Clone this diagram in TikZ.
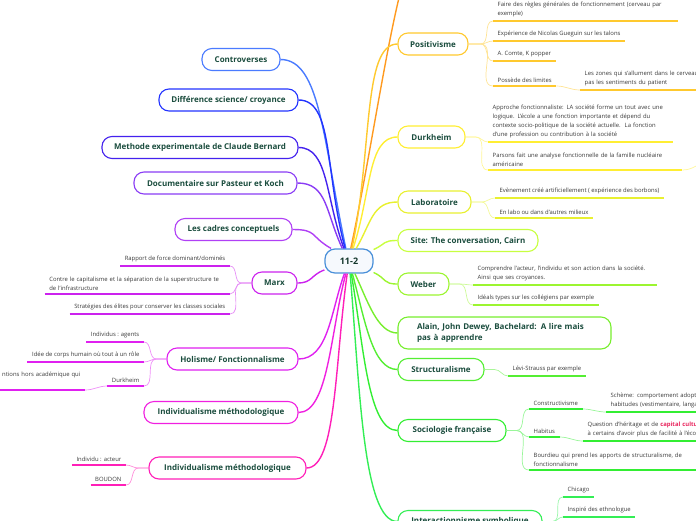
\documentclass[tikz,border=0pt]{standalone}
\usepackage{fontspec}
\setmainfont{Open Sans}
\definecolor{cCenter}{HTML}{4A90D9}
\definecolor{cCon}{HTML}{4A7BFF}
\definecolor{cDif}{HTML}{2233FF}
\definecolor{cMet}{HTML}{4422EE}
\definecolor{cDoc}{HTML}{8A3CF5}
\definecolor{cCad}{HTML}{B040F5}
\definecolor{cMarx}{HTML}{CC22EE}
\definecolor{cHol}{HTML}{E020F0}
\definecolor{cIndA}{HTML}{F020E0}
\definecolor{cIndB}{HTML}{FF1FB8}
\definecolor{cOra}{HTML}{FF9A1F}
\definecolor{cPos}{HTML}{FFC92E}
\definecolor{cDur}{HTML}{FFEE33}
\definecolor{cLab}{HTML}{E8F030}
\definecolor{cSite}{HTML}{C8FF40}
\definecolor{cWeb}{HTML}{9CF530}
\definecolor{cAla}{HTML}{77EE2E}
\definecolor{cStr}{HTML}{55EE33}
\definecolor{cSoc}{HTML}{33EE33}
\definecolor{cInt}{HTML}{33EE55}
\definecolor{topictext}{HTML}{1B4D3E}
\definecolor{leaftext}{HTML}{3A3A3A}
\definecolor{capred}{HTML}{E8245C}

\begin{document}
\begin{tikzpicture}[x=1pt,y=1pt,
  topic/.style={draw=#1,line width=1.1pt,rounded corners=10pt,fill=white,minimum height=22pt,font=\fontsize{8}{11.5}\selectfont\bfseries,text=topictext},
  leaf/.style={inner xsep=4.5pt,inner ysep=3.5pt,font=\fontsize{5.9}{9}\selectfont,text=leaftext,align=left},
  branch/.style={draw=#1,line width=1.4pt},
  twig/.style={draw=#1!50,line width=0.7pt},
  ul/.style={draw=#1,line width=1.5pt}]
  \useasboundingbox (0,0) rectangle (696,-520);

  \node[draw=cCenter,line width=1.2pt,rounded corners=10pt,fill=cCenter!5,minimum width=48pt,minimum height=24pt,font=\fontsize{9}{10}\selectfont\bfseries,text=topictext!70!black] (c) at (349,-261) {11-2};

  % left side
  \node[topic=cCon,minimum width=78pt] (contro) at (241,-59.5) {Controverses};
  \node[topic=cDif,minimum width=139pt] (diff) at (228.5,-100) {Différence science/ croyance};
  \node[topic=cMet,minimum width=196pt] (bernard) at (200,-147.5) {Methode experimentale de Claude Bernard};
  \node[topic=cDoc,minimum width=163pt] (pasteur) at (215.5,-183) {Documentaire sur Pasteur et Koch};
  \node[topic=cCad,minimum width=117pt] (cadres) at (233.5,-229.5) {Les cadres conceptuels};
  \node[topic=cMarx,minimum width=45pt] (marx) at (274.5,-283) {Marx};
  \node[topic=cHol,minimum width=131pt] (holisme) at (232.5,-359) {Holisme/ Fonctionnalisme};
  \node[topic=cIndA,minimum width=154pt] (indivA) at (221,-412.5) {Individualisme méthodologique};
  \node[topic=cIndB,minimum width=157pt] (indivB) at (227.5,-468) {Individualisme méthodologique};

  % right side
  \node[topic=cPos,minimum width=70pt] (posit) at (433,-44) {Positivisme};
  \node[topic=cDur,minimum width=67pt] (durk) at (431.5,-137) {Durkheim};
  \node[topic=cLab,minimum width=73pt] (labo) at (434.5,-202) {Laboratoire};
  \node[topic=cSite,minimum width=140pt] (site) at (468,-240.5) {Site: The conversation, Cairn};
  \node[topic=cWeb,minimum width=51pt] (weber) at (423.5,-284) {Weber};
  \node[topic=cAla,minimum width=213pt,text width=175pt,align=left,inner xsep=19pt,minimum height=32pt] (alain) at (504.5,-333) {Alain, John Dewey, Bachelard: A lire mais\\pas à apprendre};
  \node[topic=cStr,minimum width=86pt] (struct) at (441,-369.5) {Structuralisme};
  \node[topic=cSoc,minimum width=108pt] (socio) at (452,-430.5) {Sociologie française};
  \node[topic=cInt,minimum width=144pt] (inter) at (470,-521.5) {Interactionnisme symbolique};

  \coordinate (above) at (402,14);
  \coordinate (durkmore) at (708,-160);
  \coordinate (intermore) at (562,-538);

  \draw[branch=cCon] (c.104) .. controls +(102:110) and +(40,0) .. (contro.east);
  \draw[branch=cDif] (c.107) .. controls +(105:80) and +(35,0) .. (diff.east);
  \draw[branch=cMet] (c.112) .. controls +(110:55) and +(30,0) .. (bernard.east);
  \draw[branch=cDoc] (c.118) .. controls +(115:40) and +(30,0) .. (pasteur.east);
  \draw[branch=cCad] (c.145) .. controls +(150:25) and +(25,0) .. (cadres.east);
  \draw[branch=cMarx] (c.200) .. controls +(200:15) and +(15,0) .. (marx.east);
  \draw[branch=cHol] (c.250) .. controls +(250:40) and +(30,0) .. (holisme.east);
  \draw[branch=cIndA] (c.256) .. controls +(255:60) and +(30,0) .. (indivA.east);
  \draw[branch=cIndB] (c.262) .. controls +(262:90) and +(30,0) .. (indivB.east);
  \draw[branch=cOra] (c.82) .. controls +(78:90) and +(255:60) .. (above);
  \draw[branch=cPos] (c.77) .. controls +(78:100) and +(-35,0) .. (posit.west);
  \draw[branch=cDur] (c.72) .. controls +(72:60) and +(-30,0) .. (durk.west);
  \draw[branch=cLab] (c.60) .. controls +(60:30) and +(-25,0) .. (labo.west);
  \draw[branch=cSite] (c.25) .. controls +(25:15) and +(-15,0) .. (site.west);
  \draw[branch=cWeb] (c.-25) .. controls +(-25:15) and +(-15,0) .. (weber.west);
  \draw[branch=cAla] (c.-65) .. controls +(-65:30) and +(-20,0) .. (alain.west);
  \draw[branch=cStr] (c.-75) .. controls +(-75:50) and +(-25,0) .. (struct.west);
  \draw[branch=cSoc] (c.-80) .. controls +(-80:70) and +(-30,0) .. (socio.west);
  \draw[branch=cInt] (c.-85) .. controls +(-85:110) and +(-35,0) .. (inter.west);

  % Marx
  \node[leaf,anchor=south east] (rapport) at (230,-266) {Rapport de force dominant/dominés};
  \node[leaf,text width=176pt,anchor=south east] (capital) at (230,-294) {Contre le capitalisme et la séparation de la superstructure te\\de l'infrastructure};
  \node[leaf,anchor=south east] (elites) at (230,-314) {Stratégies des élites pour conserver les classes sociales};
  \draw[twig=cMarx] (marx.west) -- ++(-10,0) to[out=180,in=0] (rapport.south east);
  \draw[twig=cMarx] (marx.west) -- ++(-10,0) to[out=180,in=0] (capital.south east);
  \draw[twig=cMarx] (marx.west) -- ++(-10,0) to[out=180,in=0] (elites.south east);
  \draw[ul=cMarx] (rapport.south west) -- (rapport.south east);
  \draw[ul=cMarx] (capital.south west) -- (capital.south east);
  \draw[ul=cMarx] (elites.south west) -- (elites.south east);

  % Holisme
  \node[leaf,anchor=south east] (agents) at (144,-342) {Individus : agents};
  \node[leaf,anchor=south east] (corps) at (144,-362) {Idée de corps humain où tout à un rôle};
  \node[leaf,anchor=south east] (durkL) at (144,-386) {Durkheim};
  \node[leaf,text width=92pt,align=right,text depth=10pt,anchor=south east] (horsacad) at (85,-390) {ntions hors académique qui};
  \draw[twig=cHol] (holisme.west) -- ++(-10,0) to[out=180,in=0] (agents.south east);
  \draw[twig=cHol] (holisme.west) -- ++(-10,0) to[out=180,in=0] (corps.south east);
  \draw[twig=cHol] (holisme.west) -- ++(-10,0) to[out=180,in=0] (durkL.south east);
  \draw[twig=cHol] (durkL.south west) to[out=180,in=0] (horsacad.south east);
  \draw[ul=cHol] (agents.south west) -- (agents.south east);
  \draw[ul=cHol] (corps.south west) -- (corps.south east);
  \draw[ul=cHol] (durkL.south west) -- (durkL.south east);
  \draw[ul=cHol] (horsacad.south west) -- (horsacad.south east);

  % Individualisme
  \node[leaf,anchor=south east] (acteur) at (126,-465) {Individu : acteur};
  \node[leaf,anchor=south east] (boudon) at (126,-485) {BOUDON};
  \draw[twig=cIndB] (indivB.west) -- ++(-10,0) to[out=180,in=0] (acteur.south east);
  \draw[twig=cIndB] (indivB.west) -- ++(-10,0) to[out=180,in=0] (boudon.south east);
  \draw[ul=cIndB] (acteur.south west) -- (acteur.south east);
  \draw[ul=cIndB] (boudon.south west) -- (boudon.south east);

  % Positivisme
  \node[leaf,text width=176pt,anchor=south west] (regles) at (493,-21) {Faire des règles générales de fonctionnement (cerveau par\\exemple)};
  \node[leaf,anchor=south west] (gueguin) at (493,-41) {Expérience de Nicolas Gueguin sur les talons};
  \node[leaf,anchor=south west] (comte) at (493,-61) {A. Comte, K popper};
  \node[leaf,anchor=south west] (limites) at (493,-86) {Possède des limites};
  \node[leaf,text width=150pt,anchor=south west] (zones) at (580,-90) {Les zones qui s'allument dans le cerveau\\pas les sentiments du patient};
  \draw[twig=cPos] (posit.east) -- ++(12,0) to[out=0,in=180] (regles.south west);
  \draw[twig=cPos] (posit.east) -- ++(12,0) to[out=0,in=180] (gueguin.south west);
  \draw[twig=cPos] (posit.east) -- ++(12,0) to[out=0,in=180] (comte.south west);
  \draw[twig=cPos] (posit.east) -- ++(12,0) to[out=0,in=180] (limites.south west);
  \draw[twig=cPos] (limites.south east) to[out=0,in=180] (zones.south west);
  \draw[ul=cPos] (regles.south west) -- (regles.south east);
  \draw[ul=cPos] (gueguin.south west) -- (gueguin.south east);
  \draw[ul=cPos] (comte.south west) -- (comte.south east);
  \draw[ul=cPos] (limites.south west) -- (limites.south east);
  \draw[ul=cPos] (zones.south west) -- (zones.south east);

  % Durkheim
  \node[leaf,text width=176pt,anchor=south west] (fonction) at (488,-142) {Approche fonctionnaliste: LA société forme un tout avec une\\logique. L'école a une fonction importante et dépend du\\contexte socio-politique de la société actuelle.\ \ La fonction\\d'une profession ou contribution à la société};
  \node[leaf,text width=185pt,anchor=south west] (parsons) at (488,-170) {Parsons fait une analyse fonctionnelle de la famille nucléaire\\américaine};
  \draw[twig=cDur] (durk.east) -- ++(10,0) to[out=0,in=180] (fonction.south west);
  \draw[twig=cDur] (durk.east) -- ++(10,0) to[out=0,in=180] (parsons.south west);
  \draw[twig=cDur] (parsons.south east) to[out=0,in=200] (durkmore);
  \draw[ul=cDur] (fonction.south west) -- (fonction.south east);
  \draw[ul=cDur] (parsons.south west) -- (parsons.south east);

  % Laboratoire
  \node[leaf,anchor=south west] (bonbons) at (495,-198) {Evènement créé artificiellement ( expérience des borbons)};
  \node[leaf,anchor=south west] (milieux) at (495,-218) {En labo ou dans d'autres milieux};
  \draw[twig=cLab] (labo.east) -- ++(10,0) to[out=0,in=180] (bonbons.south west);
  \draw[twig=cLab] (labo.east) -- ++(10,0) to[out=0,in=180] (milieux.south west);
  \draw[ul=cLab] (bonbons.south west) -- (bonbons.south east);
  \draw[ul=cLab] (milieux.south west) -- (milieux.south east);

  % Weber
  \node[leaf,text width=175pt,anchor=south west] (acteurW) at (473,-285) {Comprendre l'acteur, l'individu et son action dans la société.\\Ainsi que ses croyances.};
  \node[leaf,anchor=south west] (ideal) at (473,-305) {Idéals types sur les collégiens par exemple};
  \draw[twig=cWeb] (weber.east) -- ++(10,0) to[out=0,in=180] (acteurW.south west);
  \draw[twig=cWeb] (weber.east) -- ++(10,0) to[out=0,in=180] (ideal.south west);
  \draw[ul=cWeb] (acteurW.south west) -- (acteurW.south east);
  \draw[ul=cWeb] (ideal.south west) -- (ideal.south east);

  % Structuralisme
  \node[leaf,anchor=south west] (levi) at (508,-376) {Lévi-Strauss par exemple};
  \draw[twig=cStr] (struct.east) -- ++(10,0) to[out=0,in=180] (levi.south west);
  \draw[ul=cStr] (levi.south west) -- (levi.south east);

  % Sociologie française
  \node[leaf,anchor=south west] (constr) at (529,-409) {Constructivisme};
  \node[leaf,text width=170pt,anchor=south west] (scheme) at (606,-412) {Schème: comportement adopté\\habitudes (vestimentaire, langage)};
  \node[leaf,anchor=south west] (habitus) at (529,-437) {Habitus};
  \node[leaf,text width=190pt,anchor=south west] (heritage) at (583,-441) {Question d'héritage et de \textcolor{capred}{\bfseries capital culturel}\\à certains d'avoir plus de facilité à l'école};
  \node[leaf,text width=176pt,anchor=south west] (bourdieu) at (529,-470) {Bourdieu qui prend les apports de structuralisme, de\\fonctionnalisme};
  \draw[twig=cSoc] (socio.east) -- ++(10,0) to[out=0,in=180] (constr.south west);
  \draw[twig=cSoc] (socio.east) -- ++(10,0) to[out=0,in=180] (habitus.south west);
  \draw[twig=cSoc] (socio.east) -- ++(10,0) to[out=0,in=180] (bourdieu.south west);
  \draw[twig=cSoc] (constr.south east) to[out=0,in=180] (scheme.south west);
  \draw[twig=cSoc] (habitus.south east) to[out=0,in=180] (heritage.south west);
  \draw[ul=cSoc] (constr.south west) -- (constr.south east);
  \draw[ul=cSoc] (scheme.south west) -- (scheme.south east);
  \draw[ul=cSoc] (habitus.south west) -- (habitus.south east);
  \draw[ul=cSoc] (heritage.south west) -- (heritage.south east);
  \draw[ul=cSoc] (bourdieu.south west) -- (bourdieu.south east);

  % Interactionnisme
  \node[leaf,anchor=south west] (chicago) at (563,-497) {Chicago};
  \node[leaf,anchor=south west] (ethno) at (563,-517) {Inspiré des ethnologue};
  \draw[twig=cInt] (inter.east) -- ++(10,0) to[out=0,in=180] (chicago.south west);
  \draw[twig=cInt] (inter.east) -- ++(10,0) to[out=0,in=180] (ethno.south west);
  \draw[twig=cInt] (inter.east) -- ++(10,0) to[out=0,in=100] (intermore);
  \draw[ul=cInt] (chicago.south west) -- (chicago.south east);
  \draw[ul=cInt] (ethno.south west) -- (ethno.south east);
\end{tikzpicture}
\end{document}
